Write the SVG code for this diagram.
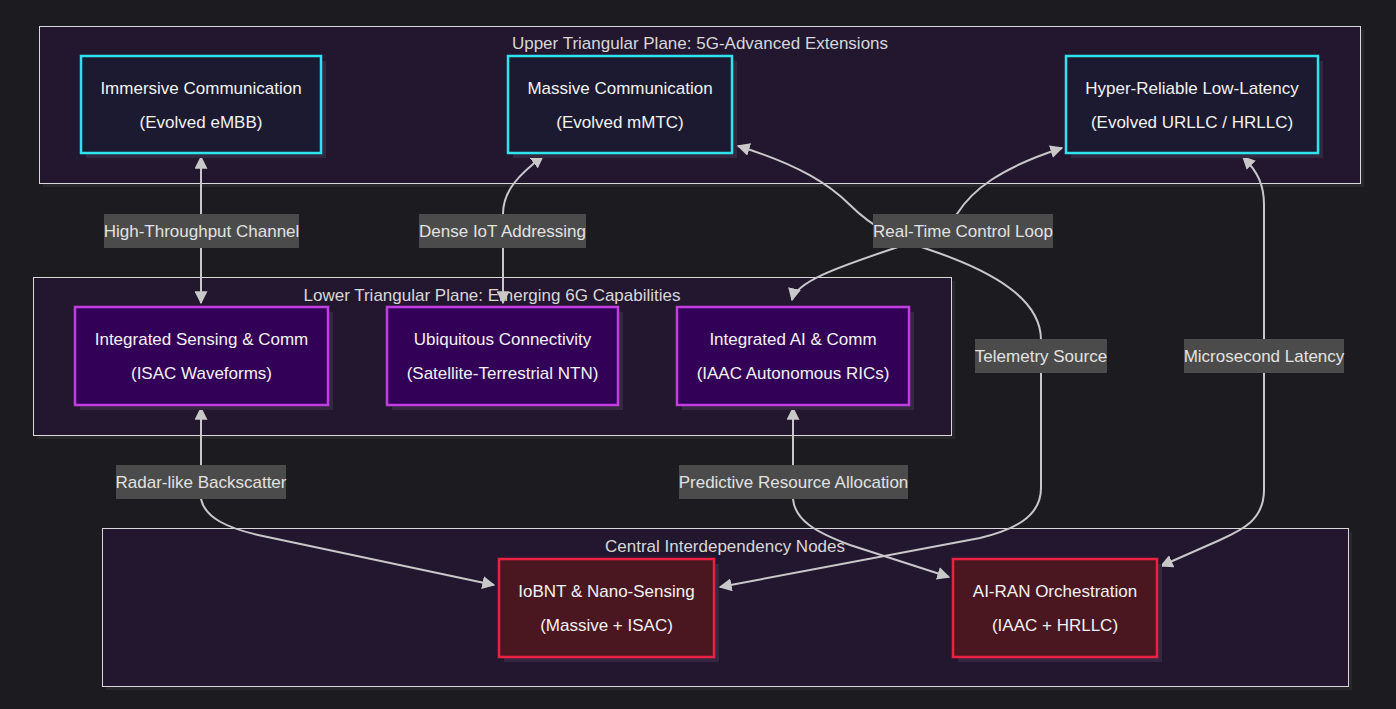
<svg xmlns="http://www.w3.org/2000/svg" width="1396" height="709" viewBox="0 0 1396 709">
<defs>
<style>
.bg{fill:#1c1b1f}
.cl{fill:#231730;stroke:#d8d8d8;stroke-width:1}
.csh{fill:#28272c}
.nsh{fill:#33283f}
.up{fill:#1c1a30;stroke:#2ee2ee;stroke-width:2.5}
.lo{fill:#330058;stroke:#c23ee0;stroke-width:2.5}
.ce{fill:#4a1620;stroke:#ec2040;stroke-width:2.5}
.ct{font-family:"Liberation Sans",Arial,sans-serif;font-size:17px;fill:#d8d8d8;text-anchor:middle}
.nt{font-family:"Liberation Sans",Arial,sans-serif;font-size:17px;fill:#f2f2f2;text-anchor:middle}
.e{fill:none;stroke:#c8c8c8;stroke-width:2}
.lb{fill:#4a4b4a}
.lt{font-family:"Liberation Sans",Arial,sans-serif;font-size:17px;fill:#e2e2e2;text-anchor:middle}
</style>
<marker id="ah" viewBox="0 0 10 10" refX="9" refY="5" markerWidth="6.5" markerHeight="6.5" markerUnits="strokeWidth" orient="auto-start-reverse">
<path d="M0,0 L10,5 L0,10 z" fill="#c8c8c8"/>
</marker>
</defs>
<rect class="bg" x="0" y="0" width="1396" height="709"/>

<g id="cluster-upper">
<rect class="csh" x="43" y="30" width="1321" height="157"/>
<rect class="cl" x="39.5" y="26.5" width="1321" height="157"/>
<text class="ct" x="700" y="49">Upper Triangular Plane: 5G-Advanced Extensions</text>
</g>
<g id="cluster-lower">
<rect class="csh" x="37" y="281" width="918" height="158"/>
<rect class="cl" x="33.5" y="277.5" width="918" height="158"/>
<text class="ct" x="492" y="301">Lower Triangular Plane: Emerging 6G Capabilities</text>
</g>
<g id="cluster-central">
<rect class="csh" x="106" y="532" width="1246" height="158"/>
<rect class="cl" x="102.5" y="528.5" width="1246" height="158"/>
<text class="ct" x="725" y="552">Central Interdependency Nodes</text>
</g>

<g id="connectors">
<path class="e" d="M201,157 L201,303" marker-start="url(#ah)" marker-end="url(#ah)"/>
<path class="e" d="M543,156 C520,174 503,190 503,214 L503,303" marker-start="url(#ah)" marker-end="url(#ah)"/>
<path class="e" d="M738,146 C800,165 830,185 850,205 C875,230 900,240 930,250 C995,272 1041,300 1041,340 L1041,488 C1041,518 1012,530 980,538 L720,587" marker-start="url(#ah)" marker-end="url(#ah)"/>
<path class="e" d="M1062,148 C1000,168 972,190 957,214 L930,240 L898,247 C835,268 796,282 792,300" marker-start="url(#ah)" marker-end="url(#ah)"/>
<path class="e" d="M1243,157 C1258,172 1264,185 1264,205 L1264,490 C1264,520 1242,530 1220,540 L1161,566" marker-start="url(#ah)" marker-end="url(#ah)"/>
<path class="e" d="M201,408 L201,499 C205,518 228,528 258,535 L494,585" marker-start="url(#ah)" marker-end="url(#ah)"/>
<path class="e" d="M793,408 L793,499 C795,520 815,532 850,545 L949,577" marker-start="url(#ah)" marker-end="url(#ah)"/>
<g id="edge-labels">
<rect class="lb" x="104" y="214" width="195" height="34"/>
<text class="lt" x="201.5" y="237">High-Throughput Channel</text>
<rect class="lb" x="419" y="214" width="167" height="34"/>
<text class="lt" x="502.5" y="237">Dense IoT Addressing</text>
<rect class="lb" x="873" y="214" width="180" height="34"/>
<text class="lt" x="963" y="237">Real-Time Control Loop</text>
<rect class="lb" x="975" y="339" width="132" height="34"/>
<text class="lt" x="1041" y="362">Telemetry Source</text>
<rect class="lb" x="1184" y="339" width="160" height="34"/>
<text class="lt" x="1264" y="362">Microsecond Latency</text>
<rect class="lb" x="116" y="465" width="170" height="34"/>
<text class="lt" x="201" y="488">Radar-like Backscatter</text>
<rect class="lb" x="679" y="465" width="229" height="34"/>
<text class="lt" x="793.5" y="488">Predictive Resource Allocation</text>
</g>
</g>

<g id="node-immersive">
<rect class="nsh" x="86" y="61" width="240" height="97"/>
<rect class="up" x="81" y="56" width="240" height="97"/>
<text class="nt" x="201" y="94">Immersive Communication</text>
<text class="nt" x="201" y="128">(Evolved eMBB)</text>
</g>
<g id="node-massive">
<rect class="nsh" x="513" y="61" width="224" height="97"/>
<rect class="up" x="508" y="56" width="224" height="97"/>
<text class="nt" x="620" y="94">Massive Communication</text>
<text class="nt" x="620" y="128">(Evolved mMTC)</text>
</g>
<g id="node-hrllc">
<rect class="nsh" x="1071" y="61" width="252" height="97"/>
<rect class="up" x="1066" y="56" width="252" height="97"/>
<text class="nt" x="1192" y="94">Hyper-Reliable Low-Latency</text>
<text class="nt" x="1192" y="128">(Evolved URLLC / HRLLC)</text>
</g>

<g id="node-isac">
<rect class="nsh" x="80" y="312" width="253" height="98"/>
<rect class="lo" x="75" y="307" width="253" height="98"/>
<text class="nt" x="201.5" y="345">Integrated Sensing &amp; Comm</text>
<text class="nt" x="201.5" y="379">(ISAC Waveforms)</text>
</g>
<g id="node-ntn">
<rect class="nsh" x="392" y="312" width="231" height="98"/>
<rect class="lo" x="387" y="307" width="231" height="98"/>
<text class="nt" x="502.5" y="345">Ubiquitous Connectivity</text>
<text class="nt" x="502.5" y="379">(Satellite-Terrestrial NTN)</text>
</g>
<g id="node-iaac">
<rect class="nsh" x="682" y="312" width="232" height="98"/>
<rect class="lo" x="677" y="307" width="232" height="98"/>
<text class="nt" x="793" y="345">Integrated AI &amp; Comm</text>
<text class="nt" x="793" y="379">(IAAC Autonomous RICs)</text>
</g>

<g id="node-iobnt">
<rect class="nsh" x="504" y="564" width="215" height="98"/>
<rect class="ce" x="499" y="559" width="215" height="98"/>
<text class="nt" x="606.5" y="597">IoBNT &amp; Nano-Sensing</text>
<text class="nt" x="606.5" y="631">(Massive + ISAC)</text>
</g>
<g id="node-airan">
<rect class="nsh" x="958" y="564" width="204" height="98"/>
<rect class="ce" x="953" y="559" width="204" height="98"/>
<text class="nt" x="1055" y="597">AI-RAN Orchestration</text>
<text class="nt" x="1055" y="631">(IAAC + HRLLC)</text>
</g>
</svg>
